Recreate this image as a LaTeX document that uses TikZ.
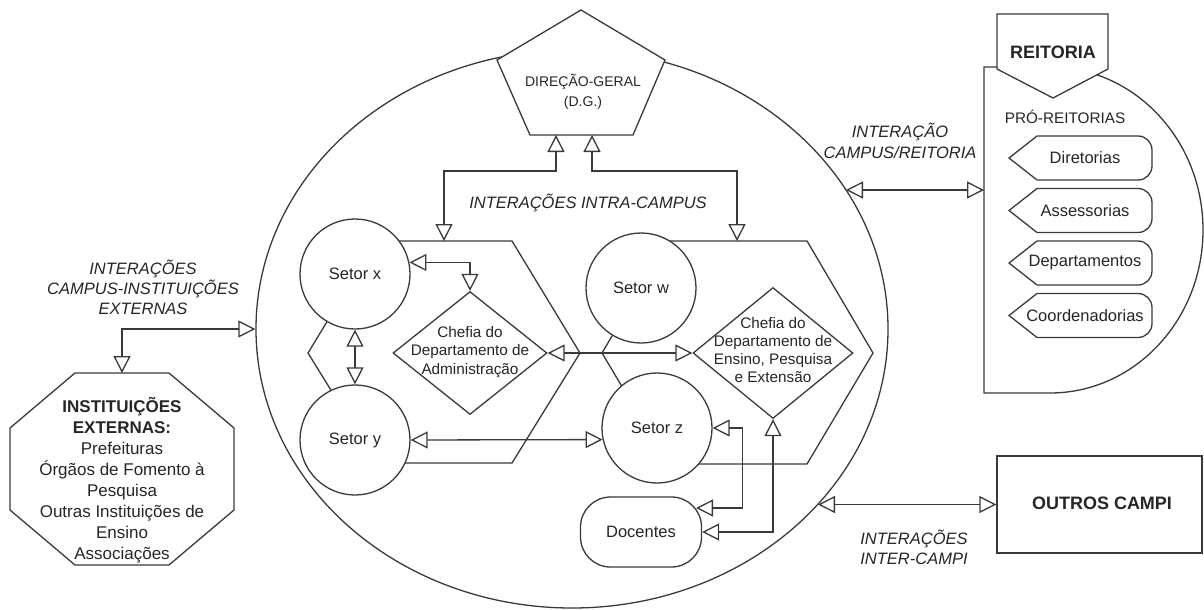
\documentclass[tikz,border=0pt]{standalone}
\usepackage{fontspec}
\setmainfont{Liberation Sans}
\usetikzlibrary{arrows.meta,shapes.geometric,calc}
\definecolor{ln}{HTML}{3A3A3A}
\definecolor{tx}{HTML}{262626}
\begin{document}
\begin{tikzpicture}[x=1pt,y=-1pt,
  tri/.tip={Triangle[length=17pt,width=17pt,fill=white]},
  shp/.style={draw=ln, line width=1.3pt},
  bi/.style={draw=ln, line width=1.3pt, tri-tri},
  txt/.style={font=\fontsize{16.5}{20}\selectfont, text=tx, align=center, inner sep=0pt},
  lbl/.style={font=\fontsize{16.5}{20}\selectfont\itshape, text=tx, align=center, inner sep=0pt},
  dtext/.style={font=\fontsize{15.3}{18.3}\selectfont, text=tx, align=center, inner sep=0pt},
  boldt/.style={font=\fontsize{18}{21}\selectfont\bfseries, text=tx, align=center, inner sep=0pt},
  setor/.style={shp, circle, fill=white, minimum size=110pt, inner sep=0pt, font=\fontsize{16.5}{20}\selectfont, text=tx},
  chefia/.style={shp, diamond, fill=white, inner sep=0pt}]
\useasboundingbox (0,0) rectangle (1204,610);
\fill[white] (0,0) rectangle (1204,610);

% campus ellipse
\node[shp, ellipse, minimum width=632pt, minimum height=558pt, inner sep=0pt] (campus) at (572,329) {};

% direcao geral pentagon
\draw[shp, fill=white] (581,10) -- (665,60) -- (633,135) -- (530,135) -- (497,60) -- cycle;
\node[txt, font=\fontsize{14}{20}\selectfont] (dg) at (583,92) {DIREÇÃO-GERAL\\(D.G.)};
\coordinate (dgA) at (556,135);
\coordinate (dgB) at (592,135);

% hexagons
\draw[shp] (376,241) -- (512,241) -- (580,353) -- (512,463) -- (376,463) -- (308,353) -- cycle;
\draw[shp] (668,241) -- (807,241) -- (873,353) -- (807,464) -- (668,464) -- (602,353) -- cycle;
\coordinate (hxL) at (444,241);
\coordinate (hxR) at (737,241);

% sectors
\node[setor] (sx) at (355,274) {Setor x};
\node[setor] (sy) at (355,440) {Setor y};
\node[setor] (sw) at (641,288) {Setor w};
\node[setor] (sz) at (657,428) {Setor z};

% chefias
\node[chefia, minimum width=154pt, minimum height=123pt] (adm) at (470,353) {};
\node[dtext] (admt) at (470,352) {Chefia do\\Departamento de\\Administração};
\node[chefia, minimum width=160pt, minimum height=131pt] (epe) at (773,353) {};
\node[dtext] (epet) at (773,350) {Chefia do\\Departamento de\\Ensino, Pesquisa\\e Extensão};

% docentes
\node[shp, rounded corners=30pt, minimum width=121pt, minimum height=70pt, fill=white, inner sep=0pt, font=\fontsize{16.5}{20}\selectfont, text=tx] (doc) at (641,532) {Docentes};
\coordinate (docA) at (696,508);

% intra-campus connectors
\draw[bi] (dgA) -- ++(0,36) -| (hxL);
\draw[bi] (dgB) -- ++(0,36) -| (hxR);
\draw[bi] (sx.12) -| (adm.north);
\draw[bi] (sx.south) -- (sy.north);
\draw[bi] (adm.east) -- (epe.west);
\draw[bi] (sy.east) -- (sz.192);
\draw[bi] (sz.east) -- ++(30,0) |- (docA);
\draw[bi] (epe.south) |- (doc.east);

% instituicoes externas
\draw[shp] (75,373) -- (169,373) -- (234,428) -- (234,510) -- (169,565) -- (75,565) -- (10,510) -- (10,428) -- cycle;
\coordinate (instN) at (122,373);
\node[txt, font=\fontsize{17}{21}\selectfont] (inst) at (122,480) {\textbf{INSTITUIÇÕES}\\\textbf{EXTERNAS:}\\Prefeituras\\Órgãos de Fomento à\\Pesquisa\\Outras Instituições de\\Ensino\\Associações};
\draw[bi] (instN) |- (campus.west);

% reitoria
\draw[shp] (1050,67) arc[start angle=-90, end angle=90, x radius=153, y radius=163] -- (984,393) -- (984,67) -- cycle;
\foreach \n/\yy/\k in {Diretorias/158/a, Assessorias/210.5/b, Departamentos/263/c, Coordenadorias/315.5/d}{
  \draw[shp] (1009,\yy) -- (1037,\yy-22) -- (1138,\yy-22) arc[start angle=-90, end angle=0, radius=14] -- (1152,\yy+8) arc[start angle=0, end angle=90, radius=14] -- (1037,\yy+22) -- cycle;
  \node[txt] (tag\k) at (1085,\yy) {\n};
}
\draw[shp, fill=white] (997,14) -- (1108,14) -- (1108,69) -- (1053,98) -- (997,69) -- cycle;
\node[boldt] (reit) at (1053,52) {REITORIA};
\node[txt, font=\fontsize{15.3}{18}\selectfont] (pro) at (1065,117) {PRÓ-REITORIAS};
\coordinate (reitW) at (984,190);
\coordinate (campusR) at (846,190);
\draw[bi] (campusR) -- (reitW);

% outros campi
\node[shp, minimum width=205pt, minimum height=97pt, inner sep=0pt] (outros) at (1099.5,504.5) {};
\node[boldt] (outrost) at (1102,503) {OUTROS CAMPI};
\coordinate (campusO) at (818,504.5);
\draw[bi] (campusO) -- (outros.west);

% labels
\node[lbl] (lblIntra) at (588,203) {INTERAÇÕES INTRA-CAMPUS};
\node[lbl] (lblExt) at (143,287) {INTERAÇÕES\\CAMPUS-INSTITUIÇÕES\\EXTERNAS};
\node[lbl, font=\fontsize{16.5}{21}\selectfont\itshape] (lblReit) at (900,141) {INTERAÇÃO\\CAMPUS/REITORIA};
\node[lbl] (lblInter) at (914,547) {INTERAÇÕES\\INTER-CAMPI};
\end{tikzpicture}
\end{document}
